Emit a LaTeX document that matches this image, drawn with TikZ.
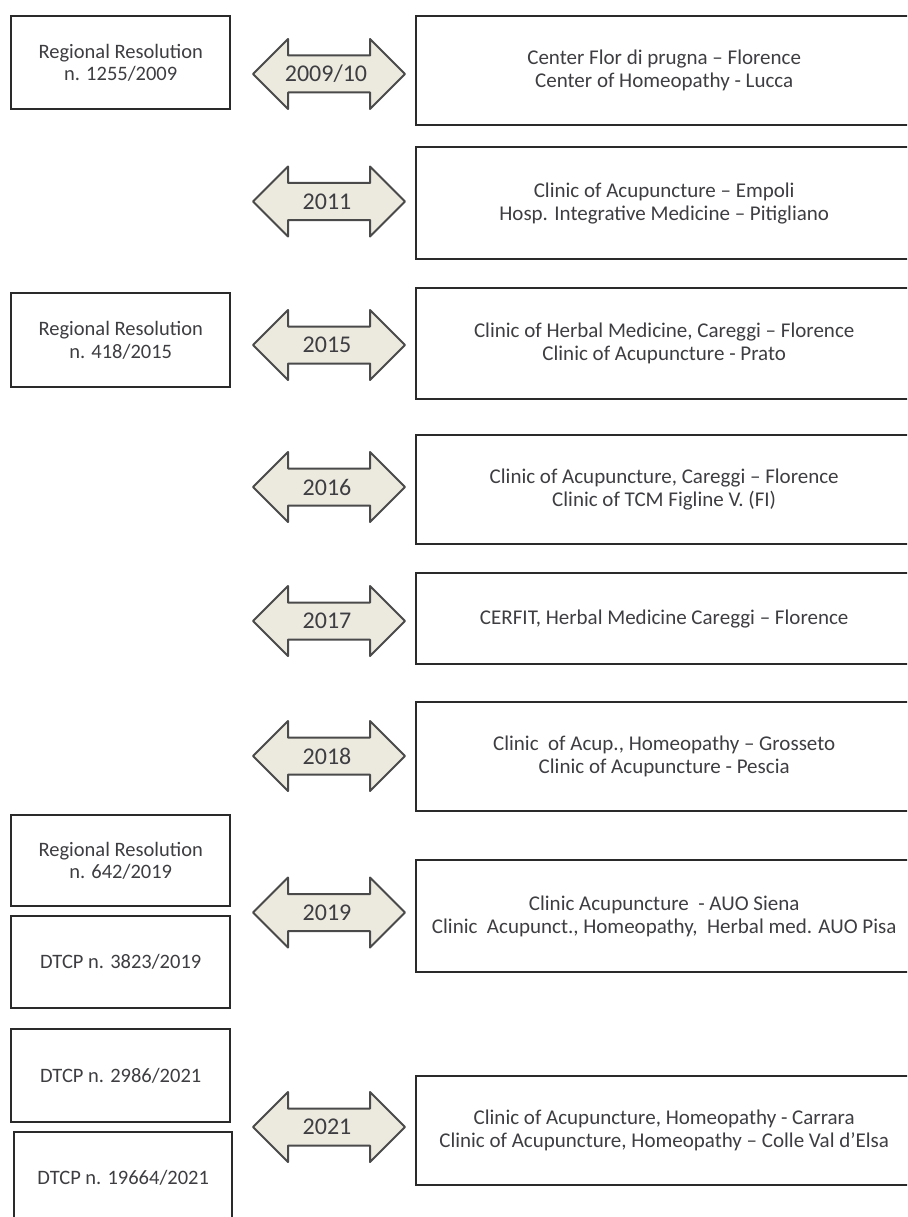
\documentclass[tikz,border=0pt]{standalone}
\usepackage{fontspec}
\setmainfont{Carlito}
\definecolor{txt}{HTML}{3E3E42}
\definecolor{boxline}{HTML}{2A2A2A}
\definecolor{arrfill}{HTML}{ECE9DF}
\definecolor{arrline}{HTML}{4A4A4A}
\begin{document}
\begin{tikzpicture}[x=1pt,y=1pt,
  lbox/.style={draw=boxline, line width=2.4pt, fill=white, anchor=north west, align=center, text=txt,
     font=\fontsize{20.5}{22.5}\selectfont, inner sep=0pt},
  rbox/.style={lbox, minimum width=496pt, font=\fontsize{21}{23}\selectfont},
  yeartext/.style={text=txt, font=\fontsize{24}{26}\selectfont, inner sep=0pt},
  yeararrow/.pic={\draw[draw=arrline, line width=2pt, fill=arrfill, line join=round]
     (-76,0) -- (-41,35) -- (-41,18.5) -- (41,18.5) -- (41,35) -- (76,0)
     -- (41,-35) -- (41,-18.5) -- (-41,-18.5) -- (-41,-35) -- cycle;}
]
\useasboundingbox (0,0) rectangle (907,-1217);
\clip (0,0) rectangle (907,-1217);
\fill[white] (0,0) rectangle (907,-1217);

% left boxes
\node[lbox, minimum width=219pt, minimum height=93pt] (L1) at (10,-15) {Regional Resolution\\n. 1255/2009};
\node[lbox, minimum width=219pt, minimum height=94pt] (L2) at (10,-292) {Regional Resolution\\n. 418/2015};
\node[lbox, minimum width=219pt, minimum height=91pt] (L3) at (10,-814) {Regional Resolution\\n. 642/2019};
\node[lbox, minimum width=219pt, minimum height=92pt] (L4) at (10,-915) {DTCP n. 3823/2019};
\node[lbox, minimum width=219pt, minimum height=93pt] (L5) at (10,-1028) {DTCP n. 2986/2021};
\node[lbox, minimum width=218pt, minimum height=92pt] (L6) at (13,-1131) {DTCP n. 19664/2021};

% right boxes
\node[rbox, minimum height=109pt] (R1) at (415,-15) {Center Flor di prugna -- Florence\\Center of Homeopathy - Lucca};
\node[rbox, minimum height=112pt] (R2) at (415,-146) {Clinic of Acupuncture -- Empoli\\Hosp. Integrative Medicine -- Pitigliano};
\node[rbox, minimum height=111pt] (R3) at (415,-287) {Clinic of Herbal Medicine, Careggi -- Florence\\Clinic of Acupuncture - Prato};
\node[rbox, minimum height=109pt] (R4) at (415,-434) {Clinic of Acupuncture, Careggi -- Florence\\Clinic of TCM Figline V. (FI)};
\node[rbox, minimum height=91pt] (R5) at (415,-572) {CERFIT, Herbal Medicine Careggi -- Florence};
\node[rbox, minimum height=109pt] (R6) at (415,-701) {Clinic\ \ of Acup., Homeopathy -- Grosseto\\Clinic of Acupuncture - Pescia};
\node[rbox, minimum height=112pt] (R7) at (415,-859) {Clinic Acupuncture\ \ - AUO Siena\\Clinic\ \ Acupunct., Homeopathy,\ \ Herbal med. AUO Pisa};
\node[rbox, minimum height=109pt] (R8) at (415,-1075) {Clinic of Acupuncture, Homeopathy - Carrara\\Clinic of Acupuncture, Homeopathy -- Colle Val d'Elsa};

% year arrows
\pic at (329,-74) {yeararrow};
\node[yeartext] (Y1) at (326,-74) {2009/10};
\pic at (329,-201.5) {yeararrow};
\node[yeartext] (Y2) at (327,-201.5) {2011};
\pic at (329,-345) {yeararrow};
\node[yeartext] (Y3) at (327,-345) {2015};
\pic at (329,-487) {yeararrow};
\node[yeartext] (Y4) at (327,-487) {2016};
\pic at (329,-621) {yeararrow};
\node[yeartext] (Y5) at (327,-621) {2017};
\pic at (329,-756) {yeararrow};
\node[yeartext] (Y6) at (327,-756) {2018};
\pic at (329,-912.5) {yeararrow};
\node[yeartext] (Y7) at (327,-912.5) {2019};
\pic at (329,-1127) {yeararrow};
\node[yeartext] (Y8) at (327,-1127) {2021};
\end{tikzpicture}
\end{document}
